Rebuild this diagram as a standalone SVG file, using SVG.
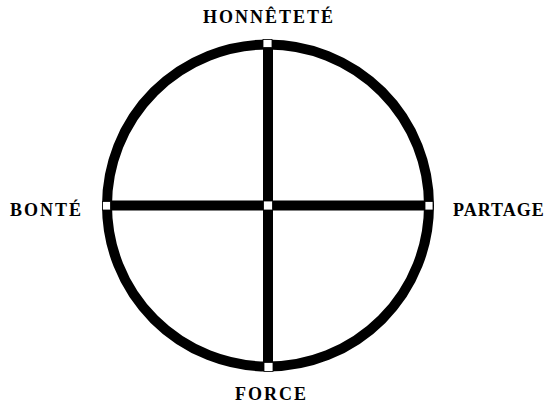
<svg xmlns="http://www.w3.org/2000/svg" width="550" height="406" viewBox="0 0 550 406">
<style>
.lbl{font-family:"Liberation Serif","Times New Roman",serif;font-weight:bold;font-size:18px;fill:#000;letter-spacing:2px}
.ln{stroke:#000;stroke-width:10;fill:none}
.sq{fill:#fff;stroke:#000;stroke-width:0.8}
</style>
<rect width="550" height="406" fill="#fff"/>
<g id="connectors">
<circle class="ln" cx="268" cy="205.5" r="161"/>
<line class="ln" x1="268" y1="44" x2="268" y2="367"/>
<line class="ln" x1="107" y1="205.5" x2="429" y2="205.5"/>
</g>
<g id="center"><rect class="sq" x="263.5" y="201" width="9" height="9"/></g>
<g id="honnetete"><rect class="sq" x="263" y="39.5" width="9" height="8"/><text class="lbl" x="203" y="23">HONNÊTETÉ</text></g>
<g id="bonte"><rect class="sq" x="102.5" y="201.5" width="8" height="8.5"/><text class="lbl" x="10" y="216">BONTÉ</text></g>
<g id="partage"><rect class="sq" x="425" y="201.5" width="8" height="8.5"/><text class="lbl" x="453" y="216" style="letter-spacing:1px">PARTAGE</text></g>
<g id="force"><rect class="sq" x="264" y="362.5" width="9" height="9"/><text class="lbl" x="235" y="400">FORCE</text></g>
</svg>
